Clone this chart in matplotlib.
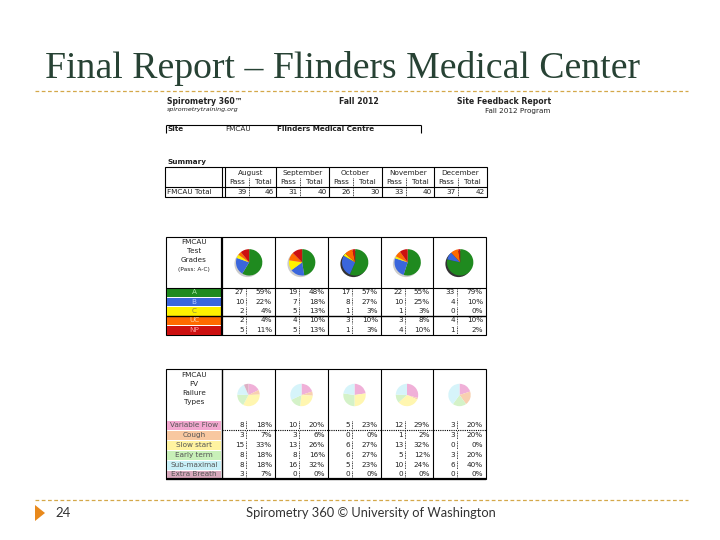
import matplotlib
matplotlib.use("Agg")
import matplotlib.pyplot as plt
from matplotlib.patches import Rectangle, Polygon, Circle

# summary data
months = ["August", "September", "October", "November", "December"]
pass_counts = [39, 31, 26, 33, 37]
total_counts = [46, 40, 30, 40, 42]

# test grades per month
grade_labels = ["A", "B", "C", "UC", "NP"]
grade_a = [27, 19, 17, 22, 33]
grade_b = [10, 7, 8, 10, 4]
grade_c = [2, 5, 1, 1, 0]
grade_uc = [2, 4, 3, 3, 4]
grade_np = [5, 5, 1, 4, 1]

# FV failure types per month
fail_labels = ["Variable Flow", "Cough", "Slow start", "Early term",
               "Sub-maximal", "Extra Breath"]
fail_varflow = [8, 10, 5, 12, 3]
fail_cough = [3, 3, 0, 1, 3]
fail_slow = [15, 13, 6, 13, 0]
fail_early = [8, 8, 6, 5, 3]
fail_submax = [8, 16, 5, 10, 6]
fail_extra = [3, 0, 0, 0, 0]

grade_colors = ["#1f8a1f", "#3a66dc", "#fff200", "#ff6a00", "#cc1010"]
grade_text = ["#a8e6a8", "#b8ccff", "#888840", "#ffd0a0", "#ff9a9a"]
fail_cell_colors = ["#f3a8d0", "#f8c8a0", "#fff3a0", "#c8f0b8", "#c8f0f8", "#d8a8bc"]
fail_pie_colors = ["#f0b0d8", "#f8d0b0", "#fff6b0", "#d4f2c8", "#d6f4fa", "#dcb0c4"]

W, H = 720, 540
fig = plt.figure(figsize=(7.2, 5.4), dpi=100)
ax = fig.add_axes([0, 0, 1, 1])
ax.set_xlim(0, W)
ax.set_ylim(H, 0)
ax.axis("off")

FS = 5.2
LW = 0.8


def hline(x0, x1, y, lw=LW, ls="-", color="black"):
    ax.plot([x0, x1], [y, y], color=color, lw=lw, ls=ls, solid_capstyle="butt")


def vline(x, y0, y1, lw=LW, ls="-", color="black"):
    ax.plot([x, x], [y0, y1], color=color, lw=lw, ls=ls, solid_capstyle="butt")


def txt(x, y, s, ha="left", size=FS, weight="normal", color="#222222", style="normal"):
    ax.text(x, y, s, ha=ha, va="center", fontsize=size, fontweight=weight,
            color=color, style=style, family="DejaVu Sans")


def pct(n, d):
    return "%d%%" % int(n * 100.0 / d + 0.5) if d else "0%"


def pie_axes(cx, cy, r):
    pa = fig.add_axes([(cx - r) / W, 1 - (cy + r) / H, 2 * r / W, 2 * r / H])
    pa.set_aspect("equal")
    pa.axis("off")
    return pa


# slide title and rules
ax.text(45, 68, "Final Report \u2013 Flinders Medical Center", fontsize=27.2,
        family="Liberation Serif", color="#274234", va="center", ha="left")
hline(35, 688, 91, lw=0.9, ls=(0, (3, 2)), color="#d4a84a")
hline(35, 688, 500, lw=0.9, ls=(0, (3, 2)), color="#d4a84a")
ax.add_patch(Polygon([[35, 505], [45, 513], [35, 521]], closed=True,
                     color="#e8891c", lw=0))
ax.text(55, 513, "24", fontsize=9.5, family="Lato", color="#333333", va="center")
ax.text(371, 513, "Spirometry 360 \u00a9 University of Washington", fontsize=9.3,
        family="Lato", color="#333333", va="center", ha="center")

# report header
txt(167, 101, "Spirometry 360\u2122", weight="bold", size=5.6)
txt(167, 110, "spirometrytraining.org", style="italic", size=4.6)
txt(359, 101, "Fall 2012", ha="center", weight="bold", size=5.6)
txt(551, 101, "Site Feedback Report", ha="right", weight="bold", size=5.6)
txt(550, 111, "Fall 2012 Program", ha="right", size=5.2)

hline(166, 421, 125)
vline(166, 125, 133)
vline(421, 125, 133)
txt(168, 129, "Site", weight="bold")
txt(225, 129, "FMCAU")
txt(277, 129, "Flinders Medical Centre", weight="bold")

# summary table
txt(168, 162, "Summary", weight="bold")
s_cols = [225, 276, 329, 382, 434, 487]
ax.add_patch(Rectangle((165, 167), 487 - 165, 30, fill=False, lw=LW))
hline(165, 487, 187)
vline(222, 167, 197)
vline(225, 167, 197)
for i, m in enumerate(months):
    x0, x1 = s_cols[i], s_cols[i + 1]
    if i > 0:
        vline(x0, 167, 197)
    vline(x0 + 24, 178, 197, lw=0.6, ls=(0, (1, 1)))
    txt((x0 + x1) / 2, 173, m, ha="center")
    txt(x0 + 12, 182, "Pass", ha="center")
    txt(x0 + 38, 182, "Total", ha="center")
    txt(x0 + 22, 192, str(pass_counts[i]), ha="right")
    txt(x1 - 2, 192, str(total_counts[i]), ha="right")
txt(167, 192, "FMCAU Total")

# grade and failure tables share column layout
t_cols = [222, 275, 328, 381, 433, 486]


def table_frame(y0, y1):
    ax.add_patch(Rectangle((166, y0), 486 - 166, y1 - y0, fill=False, lw=LW))
    for x in t_cols[1:-1]:
        vline(x, y0, y1)


# grades table
g_top, g_rows = 237, [288, 297, 306, 316, 325, 335]
grades = [grade_a, grade_b, grade_c, grade_uc, grade_np]
table_frame(g_top, g_rows[-1])
vline(222, g_top, g_rows[-1], lw=1.6)
hline(166, 486, g_rows[0])
hline(166, 486, g_rows[3], lw=1.0)
for j, lab in enumerate(["FMCAU", "Test", "Grades"]):
    txt(194, 242 + 9 * j, lab, ha="center")
txt(194, 269, "(Pass: A-C)", ha="center", size=4.2)
for k, lab in enumerate(grade_labels):
    ax.add_patch(Rectangle((167, g_rows[k] + 0.5), 54, g_rows[k + 1] - g_rows[k] - 1,
                           color=grade_colors[k], lw=0))
    txt(194, (g_rows[k] + g_rows[k + 1]) / 2, lab, ha="center", color=grade_text[k])
for i in range(len(months)):
    x0, x1 = t_cols[i], t_cols[i + 1]
    vals = [g[i] for g in grades]
    pa = pie_axes((x0 + x1) / 2, 263, 14.5)
    pa.add_patch(Circle((-0.12, -0.12), 1.0, color="#333333" if i in (2, 4) else "#cccccc", lw=0))
    pa.pie(vals, colors=grade_colors, startangle=90, counterclock=False,
           wedgeprops=dict(lw=0))
    pa.set_xlim(-1.15, 1.05)
    pa.set_ylim(-1.15, 1.05)
    for k, v in enumerate(vals):
        yc = (g_rows[k] + g_rows[k + 1]) / 2
        vline(x0 + 24, g_rows[k] + 1, g_rows[k + 1] - 1, lw=0.6, ls=(0, (1, 1)))
        txt(x0 + 22, yc, str(v), ha="right")
        txt(x1 - 3, yc, pct(v, total_counts[i]), ha="right")

# failure types table
f_top, f_rows = 369, [420, 430, 440, 450, 460, 470, 479]
fails = [fail_varflow, fail_cough, fail_slow, fail_early, fail_submax, fail_extra]
table_frame(f_top, f_rows[-1])
vline(222, f_top, f_rows[-1], lw=1.0)
hline(166, 486, f_rows[-1], lw=1.6)
hline(222, 486, f_rows[1], lw=0.8, ls=(0, (1, 1)))
for j, lab in enumerate(["FMCAU", "FV", "Failure", "Types"]):
    txt(194, 375 + 9 * j, lab, ha="center")
for k, lab in enumerate(fail_labels):
    ax.add_patch(Rectangle((167, f_rows[k] + 0.5), 54, f_rows[k + 1] - f_rows[k] - 1,
                           color=fail_cell_colors[k], lw=0))
    txt(194, (f_rows[k] + f_rows[k + 1]) / 2, lab, ha="center", color="#555555")
for i in range(len(months)):
    x0, x1 = t_cols[i], t_cols[i + 1]
    vals = [f[i] for f in fails]
    n = sum(vals)
    pa = pie_axes((x0 + x1) / 2, 395, 14)
    pa.pie(vals, colors=fail_pie_colors, startangle=90, counterclock=False,
           wedgeprops=dict(lw=0))
    for k, v in enumerate(vals):
        yc = (f_rows[k] + f_rows[k + 1]) / 2
        vline(x0 + 24, f_rows[k] + 1, f_rows[k + 1] - 1, lw=0.6, ls=(0, (1, 1)))
        txt(x0 + 22, yc, str(v), ha="right")
        txt(x1 - 3, yc, pct(v, n), ha="right")

fig.savefig("out.png", dpi=100)
